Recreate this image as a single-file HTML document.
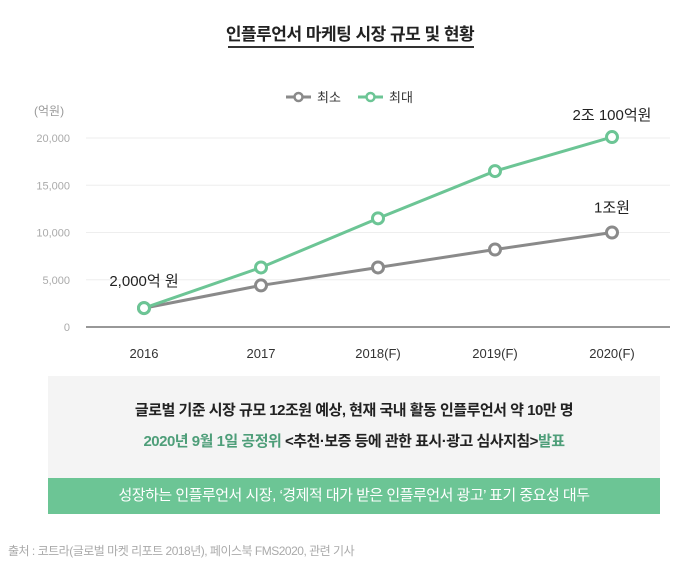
<!DOCTYPE html>
<html><head><meta charset="utf-8"><style>
body{margin:0;width:700px;height:570px;background:#fff;font-family:"Liberation Sans","Noto Sans CJK KR",sans-serif;overflow:hidden;position:relative}
.abs{position:absolute}
</style></head><body>
<div class="abs" style="left:0;width:700px;top:20px;text-align:center;font-size:17px;font-weight:bold;color:#222;letter-spacing:-0.5px">인플루언서 마케팅 시장 규모 및 현황</div>
<div class="abs" style="left:228px;top:46px;width:246px;height:2px;background:#333"></div>
<svg class="abs" style="left:0;top:0" width="700" height="370" id="chart"></svg>
<div class="abs" style="left:48px;top:376px;width:612px;height:102px;background:#f4f4f4"></div>
<div class="abs" style="left:48px;width:612px;top:399px;text-align:center;font-size:15px;color:#222;font-weight:bold;letter-spacing:-0.5px">글로벌 기준 시장 규모 12조원 예상, 현재 국내 활동 인플루언서 약 10만 명</div>
<div class="abs" style="left:48px;width:612px;top:430px;text-align:center;font-size:15px;color:#222;font-weight:bold;letter-spacing:-0.5px"><span style="color:#4e9e79">2020년 9월 1일 공정위</span> &lt;추천·보증 등에 관한 표시·광고 심사지침&gt;<span style="color:#4e9e79">발표</span></div>
<div class="abs" style="left:48px;top:478px;width:612px;height:36px;background:#6cc595;color:#fff;font-size:15px;text-align:center;line-height:36px;letter-spacing:-0.5px">성장하는 인플루언서 시장, ‘경제적 대가 받은 인플루언서 광고’ 표기 중요성 대두</div>
<div class="abs" style="left:8px;top:542px;font-size:12px;color:#aaa;letter-spacing:-0.5px">출처 : 코트라(글로벌 마켓 리포트 2018년), 페이스북 FMS2020, 관련 기사</div>
<script>
const categories=["2016","2017","2018(F)","2019(F)","2020(F)"];
const minValues=[2000,4400,6300,8200,10000];
const maxValues=[2000,6300,11500,16500,20100];
const yTicks=[0,5000,10000,15000,20000];
const yTickLabels=["0","5,000","10,000","15,000","20,000"];
const svg=document.getElementById('chart');
const NS='http://www.w3.org/2000/svg';
const x=i=>144+i*117;
const y=v=>327-v/20000*189;
function mk(t,a){const e=document.createElementNS(NS,t);for(const k in a)e.setAttribute(k,a[k]);svg.appendChild(e);return e;}
yTicks.forEach((v,i)=>{
  const l=mk('line',{x1:86,x2:670,y1:y(v),y2:y(v),stroke:v===0?'#777':'#eee','stroke-width':v===0?1.5:1});
  
  
  const t=mk('text',{x:70,y:y(v)+4,'text-anchor':'end','font-size':11,fill:'#aaa'});
  t.textContent=yTickLabels[i];
  
  
});
const u=mk('text',{x:34,y:115,'font-size':12,fill:'#999'});u.textContent='(억원)';


categories.forEach((c,i)=>{
  const t=mk('text',{x:x(i),y:358,'text-anchor':'middle','font-size':13,fill:'#333'});
  t.textContent=c;
  
  
});
function series(vals,color,name){
  const p=mk('polyline',{points:vals.map((v,i)=>x(i)+','+y(v)).join(' '),fill:'none',stroke:color,'stroke-width':3});
  
  
  vals.forEach((v,i)=>{
    const c=mk('circle',{cx:x(i),cy:y(v),r:5.5,fill:'#fff',stroke:color,'stroke-width':3});
    
    
  });
}
series(minValues,'#8a8a8a','min');
series(maxValues,'#6cc595','max');
function lab(tx,px,py,n){const t=mk('text',{x:px,y:py,'text-anchor':'middle','font-size':15,fill:'#222'});t.textContent=tx;
  
  }
lab('2,000억 원',x(0),y(minValues[0])-22,'label-2016');
lab('1조원',x(4),y(minValues[4])-20,'label-2020-min');
lab('2조 100억원',x(4),y(maxValues[4])-17,'label-2020-max');
// legend
[['#8a8a8a','최소',286],['#6cc595','최대',358]].forEach(([c,t,lx])=>{
  const l=mk('line',{x1:lx,x2:lx+25,y1:97,y2:97,stroke:c,'stroke-width':3});
  
  
  const ci=mk('circle',{cx:lx+12.5,cy:97,r:4,fill:'#fff',stroke:c,'stroke-width':2.5});
  
  
  const tt=mk('text',{x:lx+31,y:102,'font-size':13,fill:'#333'});tt.textContent=t;
  
  
});
</script>
</body></html>
